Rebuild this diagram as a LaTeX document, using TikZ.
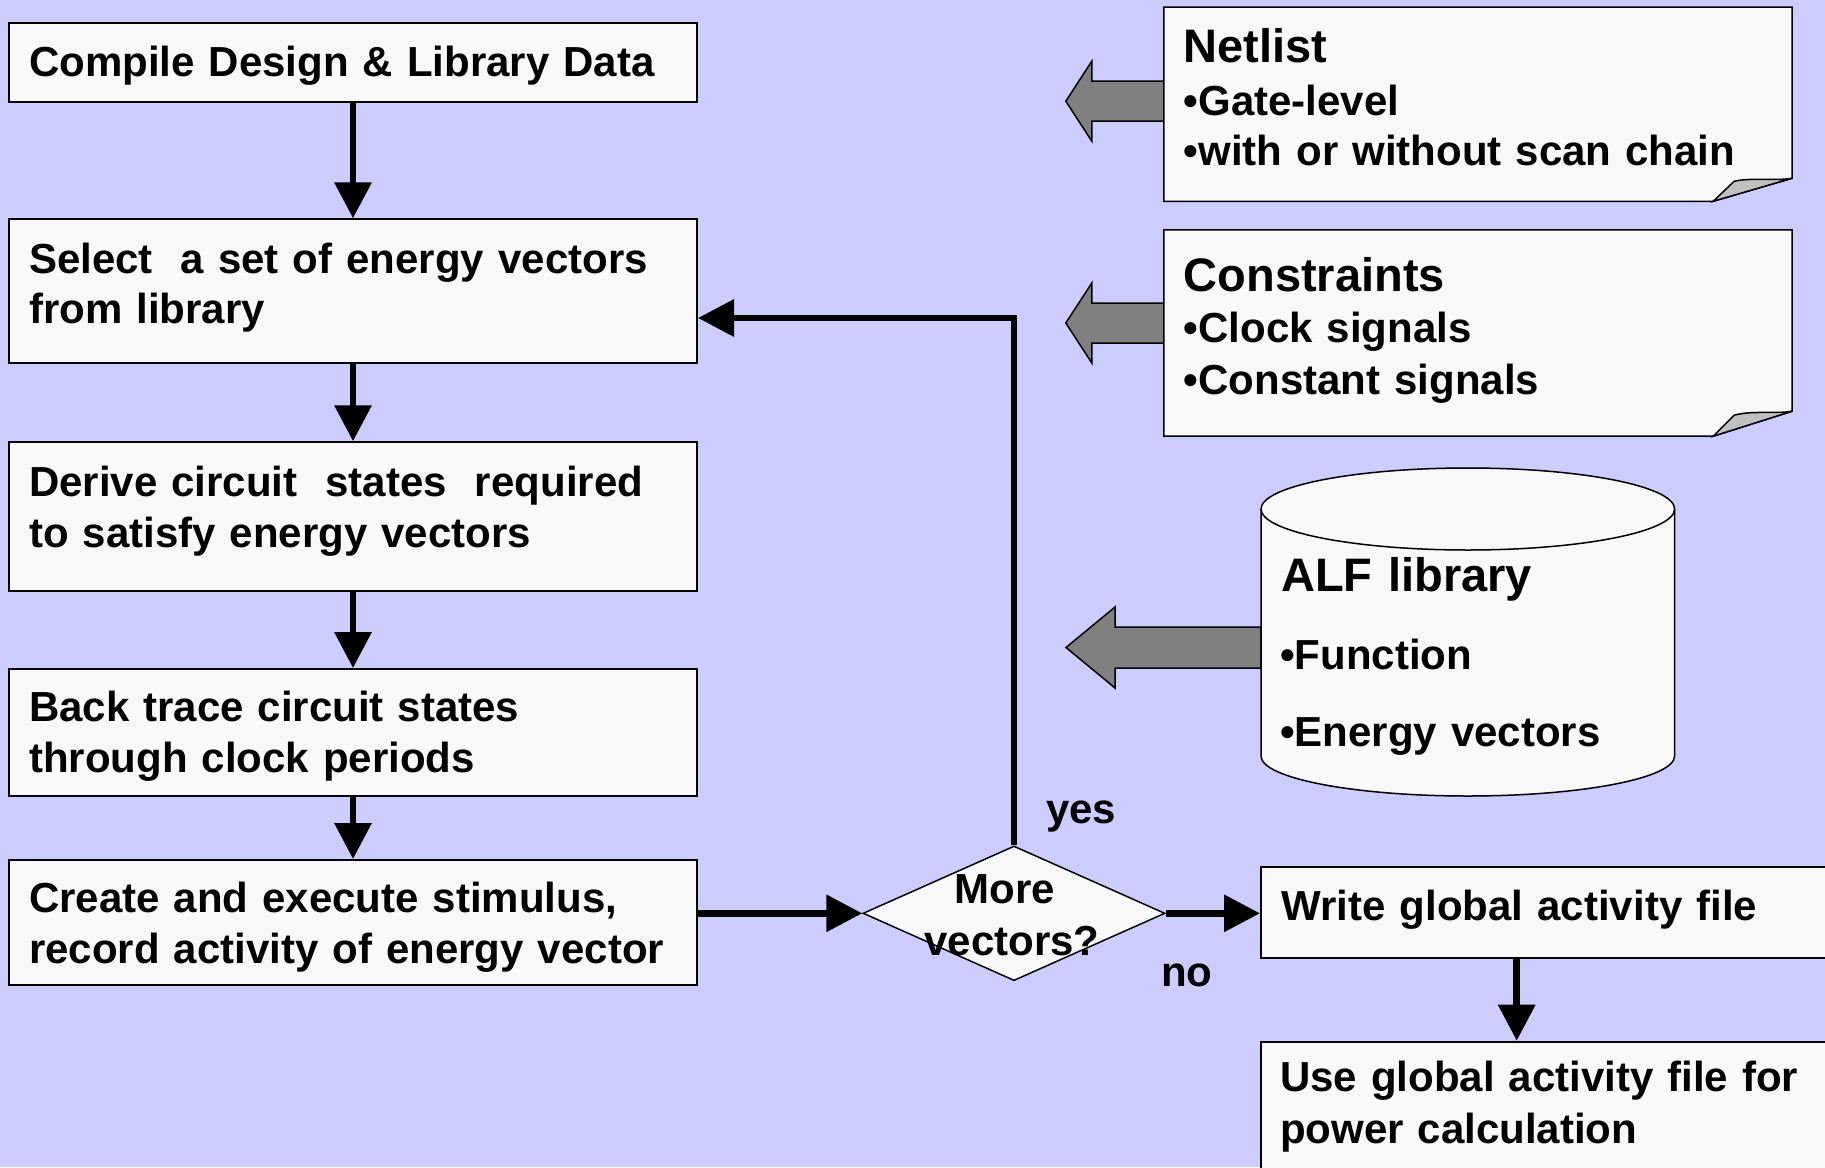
\documentclass[tikz,border=0pt]{standalone}
\usepackage{fontspec}
\setmainfont{Liberation Sans}
\usetikzlibrary{shapes.geometric,arrows.meta,calc}
\definecolor{bgc}{HTML}{CCCCFF}
\definecolor{boxc}{HTML}{F8F8F8}
\definecolor{arrowgray}{HTML}{808080}
\definecolor{foldc}{HTML}{C0C0C0}
\pgfdeclarelayer{bglayer}
\pgfdeclarelayer{shapelayer}
\pgfsetlayers{bglayer,shapelayer,main}
\begin{document}
\begin{tikzpicture}[x=1pt,y=-1pt,
  txt/.style={font={\fontsize{42}{51}\selectfont\bfseries\spaceskip=.3333em\relax}},
  ln/.style={txt, anchor=base west, inner sep=0pt},
  ttl/.style={ln, font={\fontsize{47}{56}\selectfont\bfseries\spaceskip=.3333em\relax}},
  flowbox/.style={draw=black, line width=2pt, fill=boxc, rectangle, inner sep=0pt, minimum width=688pt},
  rbox/.style={draw=black, line width=2pt, fill=boxc, rectangle, inner sep=0pt, minimum width=600pt},
  frame/.style={rectangle, inner sep=0pt},
  flow/.style={line width=6.5pt, -{Triangle[length=36pt,width=36pt]}},
  noteshape/.style={draw=black, line width=1.5pt, fill=boxc},
  blockarrow/.style={draw=black, line width=1.5pt, fill=arrowgray, line join=miter}]

\useasboundingbox (0,0) rectangle (1825,1167);
\begin{pgfonlayer}{bglayer}
\fill[bgc] (0,0) rectangle (1825,1167);
\end{pgfonlayer}

% flow boxes
\node[flowbox, minimum height=78.4pt] (b1) at (353,62.5) {};
\node[flowbox, minimum height=143.4pt] (b2) at (353,291) {};
\node[flowbox, minimum height=148.7pt] (b3) at (353,516.6) {};
\node[flowbox, minimum height=127pt] (b4) at (353,732.5) {};
\node[flowbox, minimum height=125pt] (b5) at (353,922.5) {};
\node[rbox, minimum height=90.7pt] (b6) at (1561,912.6) {};
\node[rbox, minimum height=130pt] (b7) at (1561,1106.7) {};

% flow box texts
\node[ln] (t1) at (29,76) {Compile Design \& Library Data};
\node[ln] (t2a) at (29,273) {Select\ \ a set of energy vectors};
\node[ln] (t2b) at (29,323.5) {from library};
\node[ln] (t3a) at (29,496) {Derive circuit\ \ states\ \ required};
\node[ln] (t3b) at (29,547) {to satisfy energy vectors};
\node[ln] (t4a) at (29,721.7) {Back trace circuit states};
\node[ln] (t4b) at (29,772.7) {through clock periods};
\node[ln] (t5a) at (29,912.3) {Create and execute stimulus,};
\node[ln] (t5b) at (29,963.3) {record activity of energy vector};
\node[ln] (t6) at (1281.5,920) {Write global activity file};
\node[ln] (t7a) at (1280,1091.7) {Use global activity file for};
\node[ln] (t7b) at (1280,1143) {power calculation};

% decision
\node[diamond, draw=black, line width=1.5pt, fill=boxc, minimum width=302pt, minimum height=134.7pt, inner sep=0pt] (dia) at (1014,913.3) {};
\node[txt, anchor=base, inner sep=0pt] (dt1) at (1005,903.3) {More};
\node[txt, anchor=base, inner sep=0pt] (dt2) at (1012,955) {vectors?};

% notes and library frames
\node[frame, minimum width=628pt, minimum height=193.7pt] (net) at (1478,104.2) {};
\node[frame, minimum width=628pt, minimum height=206pt] (con) at (1478,333) {};
\coordinate (cyltop) at (1467.8,509);
\coordinate (alfw) at (1261,647.5);

% note texts
\node[ttl] (n1) at (1183.5,62.3) {Netlist};
\node[ln] (n2) at (1183.5,115) {•Gate-level};
\node[ln] (n3) at (1183.5,165.7) {•with or without scan chain};
\node[ttl] (c1) at (1183.5,291) {Constraints};
\node[ln] (c2) at (1183.5,342.3) {•Clock signals};
\node[ln] (c3) at (1183.5,394.3) {•Constant signals};
\node[ttl] (a1) at (1281,591.7) {ALF library};
\node[ln] (a2) at (1280,669.3) {•Function};
\node[ln] (a3) at (1280,746.7) {•Energy vectors};

\begin{pgfonlayer}{shapelayer}
% block arrows
\draw[blockarrow] ($(net.west)+(0,-23)$) -- ++(-72,0) -- ++(0,-20) -- ++(-26,40) -- ++(26,40) -- ++(0,-20) -- ++(72,0) -- cycle;
\draw[blockarrow] ($(con.west)+(0,-30)$) -- ++(-72,0) -- ++(0,-20) -- ++(-26,40) -- ++(26,40) -- ++(0,-20) -- ++(72,0) -- cycle;
\draw[blockarrow] ($(alfw)+(0,-20.5)$) -- ++(-146,0) -- ++(0,-20) -- ++(-49,40.5) -- ++(49,40.5) -- ++(0,-20) -- ++(146,0) -- cycle;
% note shapes
\draw[noteshape] (net.north west) -- (net.north east) -- ($(net.south east)+(0,-23)$) -- ($(net.south east)+(-79,0)$) -- (net.south west) -- cycle;
\draw[noteshape, fill=foldc] ($(net.south east)+(-79,0)$) -- ($(net.south east)+(-58,-20)$) .. controls ($(net.south east)+(-40,-24)$) and ($(net.south east)+(-18,-20)$) .. ($(net.south east)+(0,-23)$) -- cycle;
\draw[noteshape] (con.north west) -- (con.north east) -- ($(con.south east)+(0,-25)$) -- ($(con.south east)+(-79,0)$) -- (con.south west) -- cycle;
\draw[noteshape, fill=foldc] ($(con.south east)+(-79,0)$) -- ($(con.south east)+(-58,-21)$) .. controls ($(con.south east)+(-40,-26)$) and ($(con.south east)+(-18,-22)$) .. ($(con.south east)+(0,-25)$) -- cycle;
% cylinder
\fill[boxc] (1261,509) -- (1261,756) arc[start angle=180,end angle=360,x radius=206.8pt,y radius=40pt] -- (1674.6,509) -- cycle;
\draw[line width=1.5pt] (1261,509) -- (1261,756) arc[start angle=180,end angle=360,x radius=206.8pt,y radius=40pt] -- (1674.6,509);
\draw[noteshape] (cyltop) ellipse [x radius=206.8pt, y radius=41pt];
\end{pgfonlayer}

% connectors
\draw[flow] (b1.south) -- (b2.north);
\draw[flow] (b2.south) -- (b3.north);
\draw[flow] (b3.south) -- (b4.north);
\draw[flow] (b4.south) -- (b5.north);
\draw[flow] (b5.east |- dia.west) -- (dia.west);
\draw[flow] (dia.east) -- (dia.east -| b6.west);
\draw[flow] (dia.north) |- ($(b2.east)+(0,27)$);
\coordinate (c67) at (1516.7,0);
\draw[flow] (c67 |- b6.south) -- (c67 |- b7.north);

% labels
\node[ln] (yes) at (1046,823.3) {yes};
\node[ln] (no) at (1161,986.7) {no};
\end{tikzpicture}
\end{document}
